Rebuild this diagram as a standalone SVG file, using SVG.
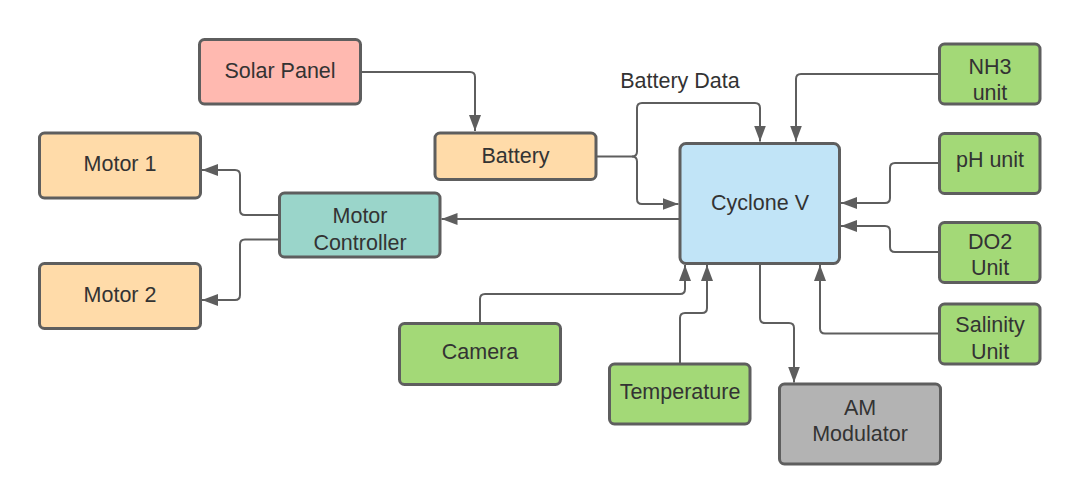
<svg xmlns="http://www.w3.org/2000/svg" width="1080" height="504" viewBox="0 0 1080 504">
<defs>
<marker id="arr" markerUnits="userSpaceOnUse" markerWidth="17" markerHeight="13" refX="16" refY="6.5" orient="auto">
<path d="M0,0.5 L16,6.5 L0,12.5 z" fill="#5e5e5e"/>
</marker>
<style>
.box{stroke:#5e5e5e;stroke-width:3}
.pink{fill:#ffb9b0}
.orange{fill:#ffdba9}
.teal{fill:#9ad5ca}
.blue{fill:#c1e4f7}
.green{fill:#a3d977}
.gray{fill:#b3b3b3}
text{font-family:"Liberation Sans",Arial,sans-serif;font-size:21.5px;fill:#333333;text-anchor:middle}
.conn path{fill:none;stroke:#5e5e5e;stroke-width:2;marker-end:url(#arr)}
</style>
</defs>
<rect width="1080" height="504" fill="#ffffff"/>
<g id="connectors" class="conn">
<path d="M361,72 H470 Q475,72 475,77 V131"/>
<path d="M596,156.5 H632 Q637,156.5 637,151.5 V108 Q637,103 642,103 H755 Q760,103 760,108 V141.5"/>
<path d="M632,156.5 Q637,156.5 637,161.5 V199 Q637,204 642,204 H678.5"/>
<path d="M939,74 H801 Q796,74 796,79 V141.5"/>
<path d="M939,163 H895 Q890,163 890,168 V198 Q890,203 885,203 H841"/>
<path d="M939,252 H895 Q890,252 890,247 V231 Q890,226 885,226 H841"/>
<path d="M939,333.5 H825 Q820,333.5 820,328.5 V265"/>
<path d="M680,219 H441.5"/>
<path d="M279,215 H245 Q240,215 240,210 V175 Q240,170 235,170 H202"/>
<path d="M279,239.5 H245 Q240,239.5 240,244.5 V295 Q240,300 235,300 H202"/>
<path d="M480,323 V299 Q480,294 485,294 H680 Q685,294 685,289 V265"/>
<path d="M680,364 V318 Q680,313 685,313 H702 Q707,313 707,308 V265"/>
<path d="M760,264 V318 Q760,323 765,323 H789 Q794,323 794,328 V382.5"/>
<text x="680" y="88">Battery Data</text>
</g>
<g id="solar-panel"><rect class="box pink" x="199.5" y="39.5" width="161" height="64.5" rx="5"/><text x="280" y="77.5">Solar Panel</text></g>
<g id="battery"><rect class="box orange" x="435" y="133" width="161" height="46.5" rx="5"/><text x="515.5" y="163">Battery</text></g>
<g id="cyclone-v"><rect class="box blue" x="680" y="143.5" width="159.5" height="120" rx="6"/><text x="760" y="209.5">Cyclone V</text></g>
<g id="motor-controller"><rect class="box teal" x="279.5" y="193" width="160.5" height="64" rx="5"/><text x="360" y="222.5">Motor</text><text x="360" y="249.5">Controller</text></g>
<g id="motor-1"><rect class="box orange" x="39.5" y="133" width="161" height="65" rx="5"/><text x="120" y="171">Motor 1</text></g>
<g id="motor-2"><rect class="box orange" x="39.5" y="263.5" width="161" height="65" rx="5"/><text x="120" y="302">Motor 2</text></g>
<g id="nh3-unit"><rect class="box green" x="939.5" y="44" width="100.5" height="60" rx="5"/><text x="990" y="73.5">NH3</text><text x="990" y="100">unit</text></g>
<g id="ph-unit"><rect class="box green" x="939.5" y="133.5" width="100.5" height="60" rx="5"/><text x="990" y="167">pH unit</text></g>
<g id="do2-unit"><rect class="box green" x="939.5" y="222.5" width="100.5" height="60" rx="5"/><text x="990" y="248.5">DO2</text><text x="990" y="275">Unit</text></g>
<g id="salinity-unit"><rect class="box green" x="939.5" y="304" width="100.5" height="60" rx="5"/><text x="990" y="331.5">Salinity</text><text x="990" y="358.5">Unit</text></g>
<g id="camera"><rect class="box green" x="399.5" y="323.5" width="161" height="61" rx="5"/><text x="480" y="358.5">Camera</text></g>
<g id="temperature"><rect class="box green" x="609.5" y="364" width="140.5" height="60" rx="5"/><text x="680" y="398.5">Temperature</text></g>
<g id="am-modulator"><rect class="box gray" x="779.5" y="384" width="161" height="80" rx="5"/><text x="860" y="414.5">AM</text><text x="860" y="441">Modulator</text></g>
</svg>
